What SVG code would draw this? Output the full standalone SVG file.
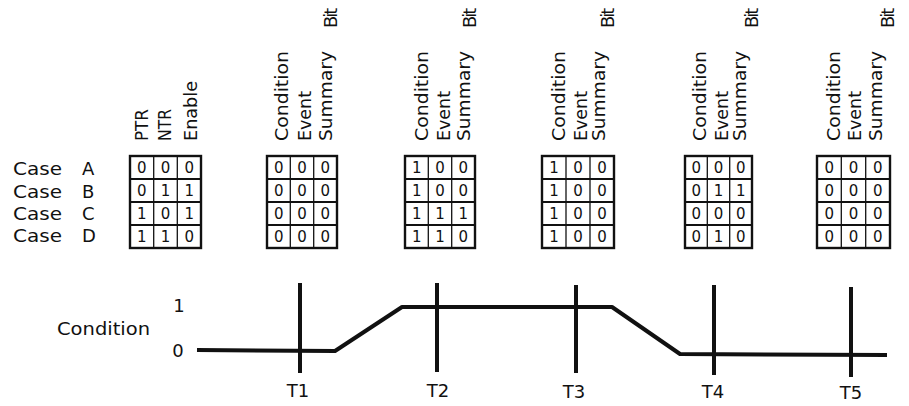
<svg xmlns="http://www.w3.org/2000/svg" width="909" height="406" viewBox="0 0 909 406">
<style>
text{font-family:"DejaVu Sans","Liberation Sans",sans-serif;fill:#111;}
.lbl{font-size:18px;}
.hd{font-size:18px;}
.bit{font-size:18px;letter-spacing:-2px;}
.dg{font-size:15px;text-anchor:middle;}
.tb{fill:none;stroke:#111;stroke-width:2.4;}
.hl{stroke:#111;stroke-width:2;}
.vl{stroke:#111;stroke-width:1.3;}
.wave{fill:none;stroke:#111;stroke-width:4;stroke-linejoin:round;}
.tick{stroke:#111;stroke-width:4;}
.tl{font-size:18px;text-anchor:middle;}
</style>
<rect width="909" height="406" fill="#fff"/>

<g id="case-labels" class="lbl">
<text x="13" y="174.5" textLength="49" lengthAdjust="spacingAndGlyphs">Case</text>
<text x="82" y="174.5">A</text>
<text x="13" y="197.5" textLength="49" lengthAdjust="spacingAndGlyphs">Case</text>
<text x="82" y="197.5">B</text>
<text x="13" y="219.5" textLength="49" lengthAdjust="spacingAndGlyphs">Case</text>
<text x="82" y="219.5">C</text>
<text x="13" y="241.5" textLength="49" lengthAdjust="spacingAndGlyphs">Case</text>
<text x="82" y="241.5">D</text>
</g>

<g id="table-1">
<text class="hd" transform="translate(148,141) rotate(-90)" textLength="32" lengthAdjust="spacingAndGlyphs">PTR</text>
<text class="hd" transform="translate(171,141) rotate(-90)" textLength="32" lengthAdjust="spacingAndGlyphs">NTR</text>
<text class="hd" transform="translate(197,141) rotate(-90)" textLength="60" lengthAdjust="spacingAndGlyphs">Enable</text>
<rect class="tb" x="130" y="156" width="71" height="92"/>
<line class="hl" x1="130" y1="179" x2="201" y2="179"/><line class="hl" x1="130" y1="202" x2="201" y2="202"/><line class="hl" x1="130" y1="225" x2="201" y2="225"/>
<line class="vl" x1="153.7" y1="156" x2="153.7" y2="248"/><line class="vl" x1="177.3" y1="156" x2="177.3" y2="248"/>
<g class="dg">
<text x="141.8" y="173">0</text><text x="165.5" y="173">0</text><text x="189.2" y="173">0</text>
<text x="141.8" y="196">0</text><text x="165.5" y="196">1</text><text x="189.2" y="196">1</text>
<text x="141.8" y="219">1</text><text x="165.5" y="219">0</text><text x="189.2" y="219">1</text>
<text x="141.8" y="242">1</text><text x="165.5" y="242">1</text><text x="189.2" y="242">0</text>
</g>
</g>

<g id="table-2">
<text class="hd" transform="translate(288,141) rotate(-90)" textLength="90" lengthAdjust="spacingAndGlyphs">Condition</text>
<text class="hd" transform="translate(311,141) rotate(-90)" textLength="50" lengthAdjust="spacingAndGlyphs">Event</text>
<text class="hd" transform="translate(332,141) rotate(-90)" textLength="90" lengthAdjust="spacingAndGlyphs">Summary</text>
<text class="bit" transform="translate(337,28) rotate(-90)">Bit</text>
<rect class="tb" x="267" y="156" width="70" height="92"/>
<line class="hl" x1="267" y1="179" x2="337" y2="179"/><line class="hl" x1="267" y1="202" x2="337" y2="202"/><line class="hl" x1="267" y1="225" x2="337" y2="225"/>
<line class="vl" x1="290.3" y1="156" x2="290.3" y2="248"/><line class="vl" x1="313.7" y1="156" x2="313.7" y2="248"/>
<g class="dg">
<text x="278.7" y="173">0</text><text x="302" y="173">0</text><text x="325.3" y="173">0</text>
<text x="278.7" y="196">0</text><text x="302" y="196">0</text><text x="325.3" y="196">0</text>
<text x="278.7" y="219">0</text><text x="302" y="219">0</text><text x="325.3" y="219">0</text>
<text x="278.7" y="242">0</text><text x="302" y="242">0</text><text x="325.3" y="242">0</text>
</g>
</g>

<g id="table-3">
<text class="hd" transform="translate(428,141) rotate(-90)" textLength="90" lengthAdjust="spacingAndGlyphs">Condition</text>
<text class="hd" transform="translate(450,141) rotate(-90)" textLength="50" lengthAdjust="spacingAndGlyphs">Event</text>
<text class="hd" transform="translate(470,141) rotate(-90)" textLength="90" lengthAdjust="spacingAndGlyphs">Summary</text>
<text class="bit" transform="translate(476,28) rotate(-90)">Bit</text>
<rect class="tb" x="405" y="156" width="70" height="92"/>
<line class="hl" x1="405" y1="179" x2="475" y2="179"/><line class="hl" x1="405" y1="202" x2="475" y2="202"/><line class="hl" x1="405" y1="225" x2="475" y2="225"/>
<line class="vl" x1="428.3" y1="156" x2="428.3" y2="248"/><line class="vl" x1="451.7" y1="156" x2="451.7" y2="248"/>
<g class="dg">
<text x="416.7" y="173">1</text><text x="440" y="173">0</text><text x="463.3" y="173">0</text>
<text x="416.7" y="196">1</text><text x="440" y="196">0</text><text x="463.3" y="196">0</text>
<text x="416.7" y="219">1</text><text x="440" y="219">1</text><text x="463.3" y="219">1</text>
<text x="416.7" y="242">1</text><text x="440" y="242">1</text><text x="463.3" y="242">0</text>
</g>
</g>

<g id="table-4">
<text class="hd" transform="translate(565,141) rotate(-90)" textLength="90" lengthAdjust="spacingAndGlyphs">Condition</text>
<text class="hd" transform="translate(587,141) rotate(-90)" textLength="50" lengthAdjust="spacingAndGlyphs">Event</text>
<text class="hd" transform="translate(605,141) rotate(-90)" textLength="90" lengthAdjust="spacingAndGlyphs">Summary</text>
<text class="bit" transform="translate(614,28) rotate(-90)">Bit</text>
<rect class="tb" x="542" y="156" width="72" height="92"/>
<line class="hl" x1="542" y1="179" x2="614" y2="179"/><line class="hl" x1="542" y1="202" x2="614" y2="202"/><line class="hl" x1="542" y1="225" x2="614" y2="225"/>
<line class="vl" x1="566" y1="156" x2="566" y2="248"/><line class="vl" x1="590" y1="156" x2="590" y2="248"/>
<g class="dg">
<text x="554" y="173">1</text><text x="578" y="173">0</text><text x="602" y="173">0</text>
<text x="554" y="196">1</text><text x="578" y="196">0</text><text x="602" y="196">0</text>
<text x="554" y="219">1</text><text x="578" y="219">0</text><text x="602" y="219">0</text>
<text x="554" y="242">1</text><text x="578" y="242">0</text><text x="602" y="242">0</text>
</g>
</g>

<g id="table-5">
<text class="hd" transform="translate(706,141) rotate(-90)" textLength="90" lengthAdjust="spacingAndGlyphs">Condition</text>
<text class="hd" transform="translate(728,141) rotate(-90)" textLength="50" lengthAdjust="spacingAndGlyphs">Event</text>
<text class="hd" transform="translate(746,141) rotate(-90)" textLength="90" lengthAdjust="spacingAndGlyphs">Summary</text>
<text class="bit" transform="translate(758,28) rotate(-90)">Bit</text>
<rect class="tb" x="685" y="156" width="67" height="92"/>
<line class="hl" x1="685" y1="179" x2="752" y2="179"/><line class="hl" x1="685" y1="202" x2="752" y2="202"/><line class="hl" x1="685" y1="225" x2="752" y2="225"/>
<line class="vl" x1="707.3" y1="156" x2="707.3" y2="248"/><line class="vl" x1="729.7" y1="156" x2="729.7" y2="248"/>
<g class="dg">
<text x="696.2" y="173">0</text><text x="718.5" y="173">0</text><text x="740.8" y="173">0</text>
<text x="696.2" y="196">0</text><text x="718.5" y="196">1</text><text x="740.8" y="196">1</text>
<text x="696.2" y="219">0</text><text x="718.5" y="219">0</text><text x="740.8" y="219">0</text>
<text x="696.2" y="242">0</text><text x="718.5" y="242">1</text><text x="740.8" y="242">0</text>
</g>
</g>

<g id="table-6">
<text class="hd" transform="translate(840,141) rotate(-90)" textLength="90" lengthAdjust="spacingAndGlyphs">Condition</text>
<text class="hd" transform="translate(861,141) rotate(-90)" textLength="50" lengthAdjust="spacingAndGlyphs">Event</text>
<text class="hd" transform="translate(882,141) rotate(-90)" textLength="90" lengthAdjust="spacingAndGlyphs">Summary</text>
<text class="bit" transform="translate(894,28) rotate(-90)">Bit</text>
<rect class="tb" x="817" y="156" width="73" height="92"/>
<line class="hl" x1="817" y1="179" x2="890" y2="179"/><line class="hl" x1="817" y1="202" x2="890" y2="202"/><line class="hl" x1="817" y1="225" x2="890" y2="225"/>
<line class="vl" x1="841.3" y1="156" x2="841.3" y2="248"/><line class="vl" x1="865.7" y1="156" x2="865.7" y2="248"/>
<g class="dg">
<text x="829.2" y="173">0</text><text x="853.5" y="173">0</text><text x="877.8" y="173">0</text>
<text x="829.2" y="196">0</text><text x="853.5" y="196">0</text><text x="877.8" y="196">0</text>
<text x="829.2" y="219">0</text><text x="853.5" y="219">0</text><text x="877.8" y="219">0</text>
<text x="829.2" y="242">0</text><text x="853.5" y="242">0</text><text x="877.8" y="242">0</text>
</g>
</g>

<g id="waveform-labels">
<text class="lbl" x="57" y="335" textLength="93" lengthAdjust="spacingAndGlyphs">Condition</text>
<text class="lbl" x="179" y="312" text-anchor="middle">1</text>
<text class="lbl" x="178" y="357" text-anchor="middle">0</text>
<text class="tl" x="298" y="397">T1</text>
<text class="tl" x="438" y="397">T2</text>
<text class="tl" x="574" y="398">T3</text>
<text class="tl" x="713" y="398">T4</text>
<text class="tl" x="851" y="399">T5</text>
</g>

<g id="connectors">
<polyline class="wave" points="197,350 335,351 402,307 612,307 680,354 887,355"/>
<line class="tick" x1="300" y1="283" x2="300" y2="373"/>
<line class="tick" x1="437" y1="283" x2="437" y2="372"/>
<line class="tick" x1="576" y1="285" x2="576" y2="373"/>
<line class="tick" x1="714" y1="285" x2="714" y2="375"/>
<line class="tick" x1="851" y1="287" x2="851" y2="377"/>
</g>
</svg>
